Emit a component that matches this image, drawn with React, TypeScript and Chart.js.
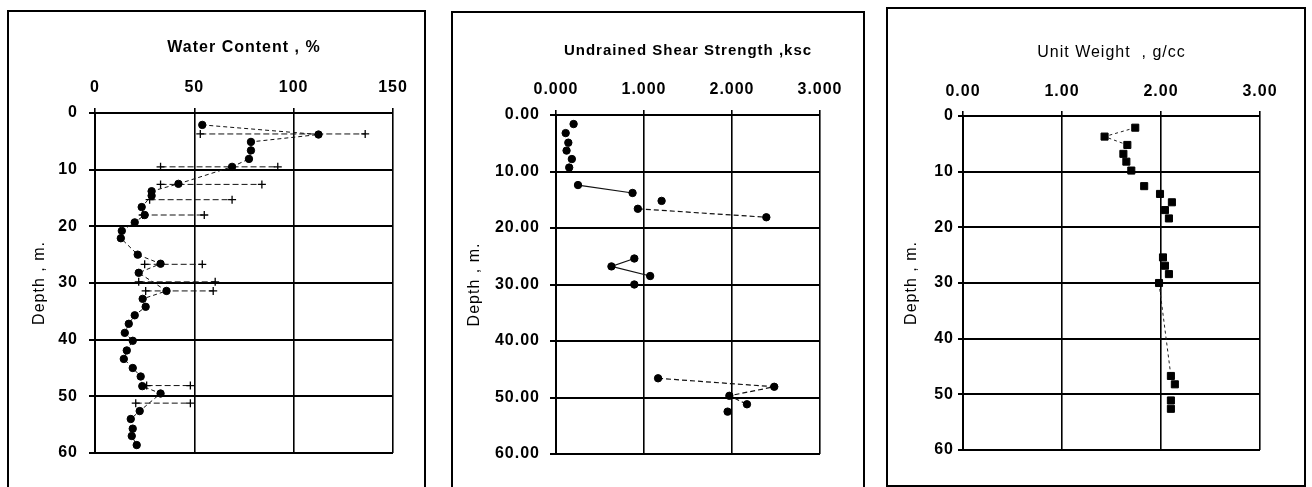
import React, { useEffect, useRef } from "react";
import { Chart, registerables } from "chart.js";

Chart.register(...registerables);

// ---------- Panel 1 : Water content ----------
const wcDepth = [2.1, 3.8, 5.1, 6.6, 8.1, 9.5, 12.5, 13.8, 14.6, 16.6, 18.0, 19.3, 20.8, 22.1, 25.0, 26.6, 28.2, 31.4, 32.8, 34.2, 35.7, 37.2, 38.8, 40.2, 41.9, 43.4, 45.0, 46.5, 48.2, 49.5, 52.6, 54.0, 55.7, 57.0, 58.6];
const wcValue = [54, 112.5, 78.5, 78.5, 77.5, 69, 42, 28.5, 28.5, 23.5, 25, 20, 13.5, 13, 21.5, 33, 22, 36, 24, 25.5, 20, 17, 15, 19, 16, 14.5, 19, 23, 23.8, 33, 22.5, 18, 19, 18.5, 21];
const alDepth = [3.7, 9.5, 12.6, 15.3, 18.0, 26.7, 29.8, 31.4, 48.1, 51.2];
const plasticLimit = [53, 33, 33, 27.5, 24, 25, 22, 25.5, 26, 20.5];
const liquidLimit = [136, 92, 84, 69, 55, 54, 60.5, 59.5, 48, 48];

// ---------- Panel 2 : Undrained shear strength ----------
const suDepth = [1.6, 3.2, 4.9, 6.3, 7.8, 9.3, 12.4, 13.8, 15.2, 16.6, 18.1, 25.4, 26.8, 28.5, 30.0, 46.6, 48.1, 49.7, 51.2, 52.5];
const suValue = [0.2, 0.11, 0.14, 0.12, 0.18, 0.15, 0.25, 0.87, 1.2, 0.93, 2.39, 0.89, 0.63, 1.07, 0.89, 1.16, 2.48, 1.97, 2.17, 1.95];
const suRuns = [[6, 7], [9, 10], [11, 12, 13], [15, 16, 17, 18]];

// ---------- Panel 3 : Unit weight ----------
const uwDepth = [2.1, 3.7, 5.2, 6.8, 8.2, 9.8, 12.6, 14.0, 15.5, 16.9, 18.4, 25.4, 26.9, 28.4, 30.0, 46.7, 48.2, 51.1, 52.6];
const uwValue = [1.74, 1.43, 1.66, 1.62, 1.65, 1.7, 1.83, 1.99, 2.11, 2.04, 2.08, 2.02, 2.04, 2.08, 1.98, 2.1, 2.14, 2.1, 2.1];
const uwRuns = [[0, 1, 2], [14, 15]];

const depthTicks = [0, 10, 20, 30, 40, 50, 60];

const FONT = "'Liberation Sans', Arial, Helvetica, sans-serif";

const spacingPlugin = {
  id: "letterSpacing",
  beforeDraw(chart: any) {
    chart.ctx.letterSpacing = "1px";
  },
};

type ScaleOpts = {
  xMax: number;
  xDigits: number;
  xTitle: string;
  xTitleSize: number;
  xTitleWeight: string;
  xTitlePad: number;
  xTickPad: number;
  xHeight: number;
  yDigits: number;
  yWidth: number;
  yTickLen: number;
  yTickPad: number;
  yTitlePad: number;
};

function buildScales(o: ScaleOpts) {
  return {
    x: {
      type: "linear",
      position: "top",
      min: 0,
      max: o.xMax,
      ticks: {
        stepSize: o.xMax / 3,
        autoSkip: false,
        maxRotation: 0,
        color: "#000",
        padding: o.xTickPad,
        font: { family: FONT, size: 16, weight: "bold" },
        callback: (v: any) => Number(v).toFixed(o.xDigits),
      },
      grid: { color: "#000", lineWidth: 1.6, tickLength: 5 },
      border: { color: "#000", width: 2 },
      title: {
        display: true,
        text: o.xTitle,
        color: "#000",
        font: { family: FONT, size: o.xTitleSize, weight: o.xTitleWeight },
        padding: { top: o.xTitlePad, bottom: 0 },
      },
      afterFit: (s: any) => {
        s.height = o.xHeight;
      },
    },
    y: {
      type: "linear",
      position: "left",
      reverse: true,
      min: 0,
      max: 60,
      afterBuildTicks: (s: any) => {
        s.ticks = depthTicks.map((v) => ({ value: v }));
      },
      ticks: {
        autoSkip: false,
        color: "#000",
        padding: o.yTickPad,
        font: { family: FONT, size: 16, weight: "bold" },
        callback: (v: any) => Number(v).toFixed(o.yDigits),
      },
      grid: { color: "#000", lineWidth: 2, tickLength: o.yTickLen },
      border: { color: "#000", width: 2 },
      title: {
        display: true,
        text: "Depth , m.",
        color: "#000",
        font: { family: FONT, size: 16, weight: "normal" },
        padding: { top: o.yTitlePad, bottom: 0 },
      },
      afterFit: (s: any) => {
        s.width = o.yWidth;
      },
    },
  };
}

function pts(xs: number[], ys: number[], idx?: number[]) {
  const ids = idx ?? xs.map((_, i) => i);
  return ids.map((i) => ({ x: xs[i], y: ys[i] }));
}

function waterDatasets() {
  const ds: any[] = [
    {
      data: pts(wcValue, wcDepth),
      showLine: true,
      borderColor: "#111",
      borderWidth: 1,
      borderDash: [4, 3],
      pointRadius: 3.7,
      pointBackgroundColor: "#000",
      pointBorderColor: "#000",
    },
  ];
  alDepth.forEach((d, i) => {
    ds.push({
      data: [
        { x: plasticLimit[i], y: d },
        { x: liquidLimit[i], y: d },
      ],
      showLine: true,
      borderColor: "#111",
      borderWidth: 1,
      borderDash: [6, 3],
      pointStyle: "cross",
      pointRadius: 4,
      pointBorderWidth: 1.3,
      pointBorderColor: "#000",
    });
  });
  return ds;
}

function shearDatasets() {
  const ds: any[] = [
    {
      data: pts(suValue, suDepth),
      showLine: false,
      pointRadius: 3.7,
      pointBackgroundColor: "#000",
      pointBorderColor: "#000",
    },
  ];
  suRuns.forEach((run, k) => {
    ds.push({
      data: pts(suValue, suDepth, run),
      showLine: true,
      borderColor: "#111",
      borderWidth: 1.2,
      borderDash: k === 1 || k === 3 ? [5, 3] : [],
      pointRadius: 0,
    });
  });
  return ds;
}

function weightDatasets() {
  const ds: any[] = [
    {
      data: pts(uwValue, uwDepth),
      showLine: false,
      pointStyle: "rect",
      pointRadius: 5,
      pointBackgroundColor: "#000",
      pointBorderColor: "#000",
    },
  ];
  uwRuns.forEach((run) => {
    ds.push({
      data: pts(uwValue, uwDepth, run),
      showLine: true,
      borderColor: "#222",
      borderWidth: 1,
      borderDash: [3, 3],
      pointRadius: 0,
    });
  });
  return ds;
}

type PanelProps = {
  left: number;
  top: number;
  width: number;
  height: number;
  padRight: number;
  padBottom: number;
  scales: ScaleOpts;
  datasets: () => any[];
};

function Panel(p: PanelProps) {
  const ref = useRef<HTMLCanvasElement | null>(null);
  const cw = p.width - 4;
  const ch = p.height - 4;
  useEffect(() => {
    if (!ref.current) return;
    const chart = new Chart(ref.current, {
      type: "scatter",
      data: { datasets: p.datasets() },
      options: {
        responsive: false,
        animation: false,
        devicePixelRatio: 1,
        layout: { padding: { left: 0, top: 0, right: p.padRight, bottom: p.padBottom } },
        plugins: { legend: { display: false }, tooltip: { enabled: false }, title: { display: false } },
        scales: buildScales(p.scales) as any,
      },
      plugins: [spacingPlugin],
    } as any);
    return () => chart.destroy();
  }, []);
  return (
    <div
      style={{
        position: "absolute",
        left: p.left,
        top: p.top,
        width: p.width,
        height: p.height,
        border: "2px solid #000",
        boxSizing: "border-box",
        background: "#fff",
      }}
    >
      <canvas ref={ref} width={cw} height={ch} style={{ position: "absolute", left: 0, top: 0, width: cw, height: ch }} />
    </div>
  );
}

export default function App() {
  return (
    <div style={{ position: "fixed", left: 0, top: 0, width: 1312, height: 487, overflow: "hidden", background: "#fff" }}>
      <Panel
        left={7}
        top={10}
        width={419}
        height={490}
        padRight={31}
        padBottom={45}
        datasets={waterDatasets}
        scales={{
          xMax: 150,
          xDigits: 0,
          xTitle: "Water Content , %",
          xTitleSize: 16,
          xTitleWeight: "bold",
          xTitlePad: 26,
          xTickPad: 11,
          xHeight: 101,
          yDigits: 0,
          yWidth: 86,
          yTickLen: 6,
          yTickPad: 11,
          yTitlePad: 21,
        }}
      />
      <Panel
        left={451}
        top={11}
        width={414}
        height={490}
        padRight={43}
        padBottom={45}
        datasets={shearDatasets}
        scales={{
          xMax: 3,
          xDigits: 3,
          xTitle: "Undrained Shear Strength ,ksc",
          xTitleSize: 15,
          xTitleWeight: "bold",
          xTitlePad: 29,
          xTickPad: 11,
          xHeight: 102,
          yDigits: 2,
          yWidth: 103,
          yTickLen: 6,
          yTickPad: 10,
          yTitlePad: 12,
        }}
      />
      <Panel
        left={886}
        top={7}
        width={420}
        height={480}
        padRight={44}
        padBottom={35}
        datasets={weightDatasets}
        scales={{
          xMax: 3,
          xDigits: 2,
          xTitle: "Unit Weight  , g/cc",
          xTitleSize: 16,
          xTitleWeight: "normal",
          xTitlePad: 34,
          xTickPad: 10,
          xHeight: 107,
          yDigits: 0,
          yWidth: 75,
          yTickLen: 5,
          yTickPad: 4,
          yTitlePad: 14,
        }}
      />
    </div>
  );
}
